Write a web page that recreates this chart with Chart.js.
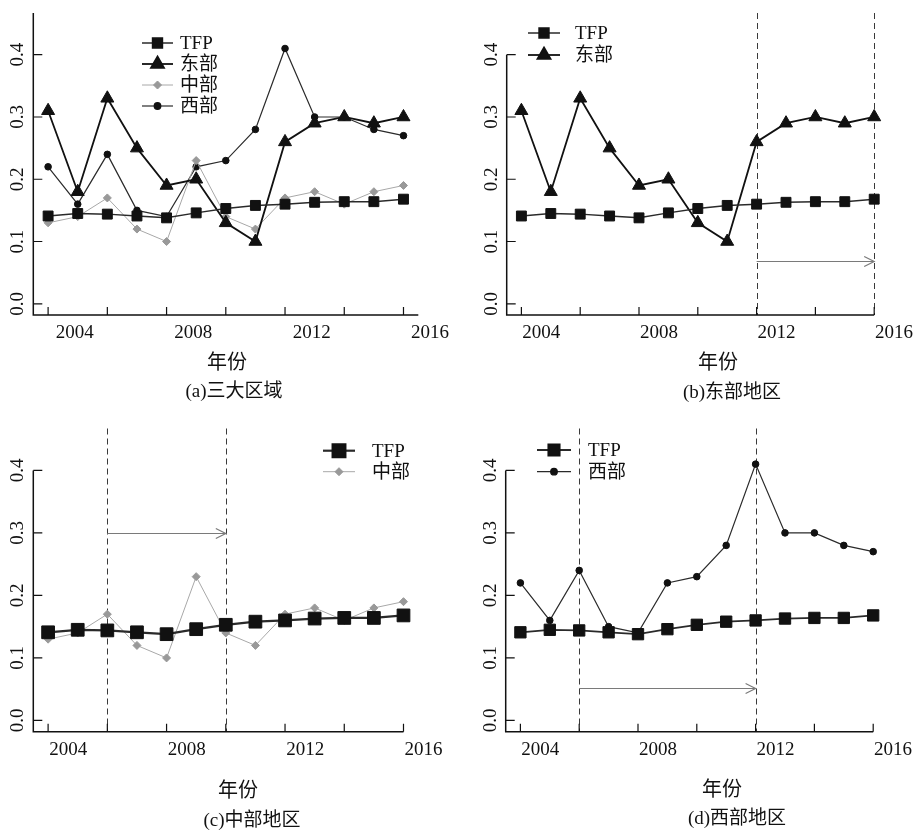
<!DOCTYPE html>
<html lang="zh">
<head>
<meta charset="utf-8">
<script src="https://cdn.jsdelivr.net/npm/chart.js@4.4.1/dist/chart.umd.min.js"></script>
<style>
  html, body { margin: 0; padding: 0; background: #fff; }
  #wrap { position: relative; width: 918px; height: 837px; overflow: hidden; }
  .panel { position: absolute; }
  .txt {
    position: absolute;
    transform: translate(-50%, -50%);
    white-space: nowrap;
    font-family: "Liberation Serif", "Noto Sans CJK SC", serif;
    color: #111;
  }
</style>
</head>
<body>
<div id="wrap">
  <div class="panel" style="left:0;top:0;width:459px;height:418px"><canvas id="ca"></canvas></div>
  <div class="panel" style="left:459px;top:0;width:459px;height:418px"><canvas id="cb"></canvas></div>
  <div class="panel" style="left:0;top:418px;width:459px;height:419px"><canvas id="cc"></canvas></div>
  <div class="panel" style="left:459px;top:418px;width:459px;height:419px"><canvas id="cd"></canvas></div>

  <div class="txt" style="left:227px;top:360px;font-size:20px">年份</div>
  <div class="txt" style="left:234px;top:388px;font-size:19px">(a)三大区域</div>
  <div class="txt" style="left:718px;top:360px;font-size:20px">年份</div>
  <div class="txt" style="left:732px;top:389px;font-size:19px">(b)东部地区</div>
  <div class="txt" style="left:238px;top:788px;font-size:20px">年份</div>
  <div class="txt" style="left:252px;top:817px;font-size:19px">(c)中部地区</div>
  <div class="txt" style="left:722px;top:787px;font-size:20px">年份</div>
  <div class="txt" style="left:737px;top:815px;font-size:19px">(d)西部地区</div>
</div>

<script>
// Data
const years = [2003, 2004, 2005, 2006, 2007, 2008, 2009, 2010, 2011, 2012, 2013, 2014, 2015];
const tfp = [0.141, 0.145, 0.144, 0.141, 0.138, 0.146, 0.153, 0.158, 0.160, 0.163, 0.164, 0.164, 0.168];
const east = [0.31, 0.18, 0.33, 0.25, 0.19, 0.20, 0.13, 0.10, 0.26, 0.29, 0.30, 0.29, 0.30];
const central = [0.13, 0.14, 0.17, 0.12, 0.10, 0.23, 0.14, 0.12, 0.17, 0.18, 0.16, 0.18, 0.19];
const west = [0.22, 0.16, 0.24, 0.15, 0.14, 0.22, 0.23, 0.28, 0.41, 0.30, 0.30, 0.28, 0.27];

const yTicks = [0, 0.1, 0.2, 0.3, 0.4];
const xTickYears = [2004, 2008, 2012, 2016];
const xTickLabels = ['2004', '2008', '2012', '2016'];
const xTickMarks = [2003, 2005, 2007, 2009, 2011, 2013, 2015];

const FONT = '"Liberation Serif", "Noto Sans CJK SC", serif';

// Series look
const SERIES = {
    tfp:     { label: 'TFP',  data: tfp,     line: '#2a2a2a', fill: '#111', style: 'rect',     radius: 7,   width: 1.5 },
    east:    { label: '东部', data: east,    line: '#111',    fill: '#111', style: 'triangle', radius: 7.5, width: 1.8 },
    central: { label: '中部', data: central, line: '#a8a8a8', fill: '#999', style: 'rectRot',  radius: 4,   width: 1 },
    west:    { label: '西部', data: west,    line: '#2a2a2a', fill: '#111', style: 'circle',   radius: 3.3, width: 1.2 }
};

// Panel layout (canvas coordinates)
const PANELS = [
    { id: 'ca', w: 459, h: 418, series: ['tfp', 'east', 'central', 'west'],
      area: { l: 33.3, t: 13, r: 418.3, b: 315 }, labelShift: -3,
      yLineFull: true, xLineEnd: 2015.5, dashes: [], arrowY: null,
      legend: { x: 142, y: 43, len: 31, textX: 180, rowH: 21 } },
    { id: 'cb', w: 459, h: 418, series: ['tfp', 'east'],
      area: { l: 47.7, t: 13, r: 429.9, b: 315 }, labelShift: -9.5,
      yLineFull: false, xLineEnd: 2015, dashes: [2011, 2015], arrowY: 0.068,
      legend: { x: 69, y: 33, len: 32, textX: 116, rowH: 22 } },
    { id: 'cc', w: 459, h: 419, series: ['tfp', 'central'], tfpRadius: 9, tfpWidth: 2.2,
      area: { l: 33.3, t: 10.5, r: 418.3, b: 313.7 }, labelShift: -9.5,
      yLineFull: false, xLineEnd: 2015, dashes: [2005, 2009], arrowY: 0.30,
      legend: { x: 323, y: 32.7, len: 32, textX: 372, rowH: 21 } },
    { id: 'cd', w: 459, h: 419, series: ['tfp', 'west'], tfpRadius: 8, tfpWidth: 1.8,
      area: { l: 46.7, t: 10.5, r: 428.9, b: 313.7 }, labelShift: -9.5,
      yLineFull: false, xLineEnd: 2015, dashes: [2005, 2011], arrowY: 0.052,
      legend: { x: 78, y: 32, len: 34, textX: 129, rowH: 21.7 } }
];

function seriesStyle(p, key) {
    const s = Object.assign({}, SERIES[key]);
    if (key === 'tfp') {
        if (p.tfpRadius) s.radius = p.tfpRadius;
        if (p.tfpWidth) s.width = p.tfpWidth;
    }
    return s;
}

/**
 * Axis lines, inward ticks, dashed markers, arrow and legend
 */
function decorPlugin(p) {
    return {
        id: 'decor',
        beforeDatasetsDraw(chart) {
            const ctx = chart.ctx;
            const xs = chart.scales.x, ys = chart.scales.y;
            const area = chart.chartArea;
            ctx.save();
            // dashed period markers
            ctx.strokeStyle = '#3a3a3a';
            ctx.lineWidth = 1;
            ctx.setLineDash([6, 4]);
            p.dashes.forEach(yr => {
                const px = Math.round(xs.getPixelForValue(yr)) + 0.5;
                ctx.beginPath();
                ctx.moveTo(px, area.top);
                ctx.lineTo(px, area.bottom);
                ctx.stroke();
            });
            ctx.setLineDash([]);
            // arrow between the markers
            if (p.arrowY !== null && p.dashes.length === 2) {
                const x1 = xs.getPixelForValue(p.dashes[0]);
                const x2 = xs.getPixelForValue(p.dashes[1]);
                const py = Math.round(ys.getPixelForValue(p.arrowY)) + 0.5;
                ctx.strokeStyle = '#7a7a7a';
                ctx.lineWidth = 1.2;
                ctx.beginPath();
                ctx.moveTo(x1, py);
                ctx.lineTo(x2, py);
                ctx.moveTo(x2 - 10, py - 5);
                ctx.lineTo(x2, py);
                ctx.lineTo(x2 - 10, py + 5);
                ctx.stroke();
            }
            ctx.restore();
        },
        afterDraw(chart) {
            const ctx = chart.ctx;
            const xs = chart.scales.x, ys = chart.scales.y;
            const area = chart.chartArea;
            ctx.save();
            ctx.strokeStyle = '#111';
            ctx.lineWidth = 1.5;
            // axis lines
            const yTop = p.yLineFull ? area.top : ys.getPixelForValue(0.4);
            ctx.beginPath();
            ctx.moveTo(area.left, yTop);
            ctx.lineTo(area.left, area.bottom);
            ctx.lineTo(xs.getPixelForValue(p.xLineEnd), area.bottom);
            ctx.stroke();
            // inward ticks
            ctx.lineWidth = 1.2;
            ctx.beginPath();
            xTickMarks.forEach(yr => {
                const px = xs.getPixelForValue(yr);
                ctx.moveTo(px, area.bottom);
                ctx.lineTo(px, area.bottom - 8);
            });
            yTicks.forEach(v => {
                const py = ys.getPixelForValue(v);
                ctx.moveTo(area.left, py);
                ctx.lineTo(area.left + 9, py);
            });
            ctx.stroke();

            // legend
            const lg = p.legend;
            p.series.forEach((key, i) => {
                const s = seriesStyle(p, key);
                const ly = lg.y + i * lg.rowH;
                ctx.strokeStyle = s.line;
                ctx.lineWidth = s.width;
                ctx.beginPath();
                ctx.moveTo(lg.x, ly);
                ctx.lineTo(lg.x + lg.len, ly);
                ctx.stroke();
                ctx.fillStyle = s.fill;
                ctx.strokeStyle = s.fill;
                Chart.helpers.drawPoint(ctx, {
                    pointStyle: s.style, rotation: 0, radius: s.radius, borderWidth: 1
                }, lg.x + lg.len / 2, ly);
                ctx.fillStyle = '#111';
                ctx.font = '19px ' + FONT;
                ctx.textAlign = 'left';
                ctx.textBaseline = 'middle';
                ctx.fillText(s.label, lg.textX, ly + 1);
            });
            ctx.restore();
        }
    };
}

function createPanel(p) {
    const datasets = p.series.map(key => {
        const s = seriesStyle(p, key);
        return {
            label: s.label,
            data: years.map((yr, i) => ({ x: yr, y: s.data[i] })),
            borderColor: s.line,
            borderWidth: s.width,
            pointStyle: s.style,
            pointRadius: s.radius,
            pointHoverRadius: s.radius,
            pointBackgroundColor: s.fill,
            pointBorderColor: s.fill,
            pointBorderWidth: 1,
            tension: 0,
            clip: false
        };
    });

    return new Chart(document.getElementById(p.id), {
        type: 'line',
        data: { datasets: datasets },
        options: {
            responsive: true,
            maintainAspectRatio: false,
            animation: false,
            events: [],
            layout: {
                padding: { left: 0, top: p.area.t, right: p.w - p.area.r, bottom: 0 }
            },
            plugins: {
                legend: { display: false },
                tooltip: { enabled: false }
            },
            scales: {
                x: {
                    type: 'linear',
                    min: 2002.5,
                    max: 2015.5,
                    grid: { display: false, drawTicks: false },
                    border: { display: false },
                    afterBuildTicks: s => { s.ticks = xTickYears.map(v => ({ value: v })); },
                    ticks: {
                        callback: (v, i) => xTickLabels[i],
                        autoSkip: false,
                        maxRotation: 0,
                        labelOffset: p.labelShift,
                        padding: 7,
                        color: '#111',
                        font: { family: FONT, size: 19 }
                    },
                    afterFit: s => {
                        s.height = p.h - p.area.b;
                        s.paddingLeft = 0;
                        s.paddingRight = 0;
                    }
                },
                y: {
                    type: 'linear',
                    min: -0.018,
                    max: 0.467,
                    grid: { display: false, drawTicks: false },
                    border: { display: false },
                    afterBuildTicks: s => { s.ticks = yTicks.map(v => ({ value: v })); },
                    ticks: {
                        callback: v => v.toFixed(1),
                        minRotation: 90,
                        maxRotation: 90,
                        crossAlign: 'center',
                        padding: 3,
                        color: '#111',
                        font: { family: FONT, size: 19 }
                    },
                    afterFit: s => {
                        s.width = p.area.l;
                        s.paddingTop = 0;
                        s.paddingBottom = 0;
                    }
                }
            }
        },
        plugins: [decorPlugin(p)]
    });
}

PANELS.forEach(createPanel);
</script>
</body>
</html>
